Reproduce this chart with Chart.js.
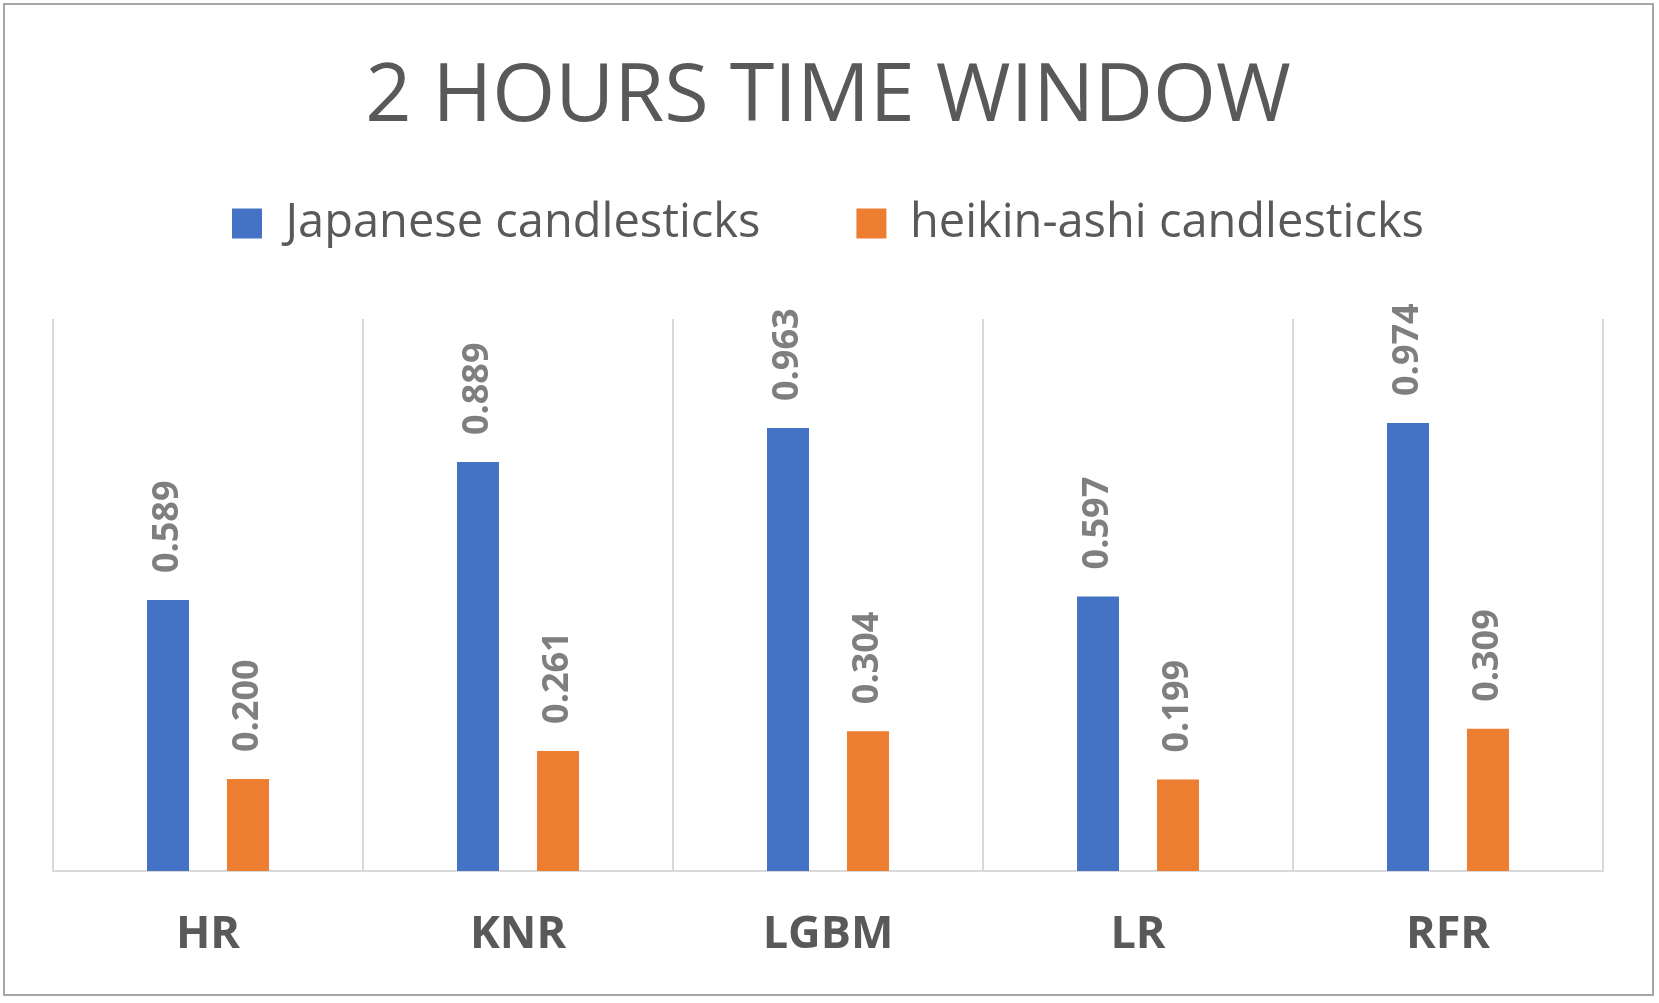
<!DOCTYPE html>
<html>
<head>
<meta charset="utf-8">
<script src="https://cdn.jsdelivr.net/npm/chart.js@4.4.1/dist/chart.umd.min.js"></script>
<style>
  html, body { margin: 0; padding: 0; background: #ffffff; }
  #wrap { width: 1659px; height: 1003px; position: relative; }
</style>
</head>
<body>
<div id="wrap"><canvas id="c" width="1659" height="1003"></canvas></div>
<script>
const categories = ['HR', 'KNR', 'LGBM', 'LR', 'RFR'];
const japaneseValues = [0.589, 0.889, 0.963, 0.597, 0.974];
const heikinAshiValues = [0.200, 0.261, 0.304, 0.199, 0.309];
const seriesNames = ['Japanese candlesticks', 'heikin-ashi candlesticks'];
const chartTitle = '2 HOURS TIME WINDOW';

const borderPlugin = {
  id: 'outerBorder',
  beforeDraw(chart) {
    const ctx = chart.ctx;
    ctx.save();
    ctx.fillStyle = '#ffffff';
    ctx.fillRect(0, 0, chart.width, chart.height);
    ctx.strokeStyle = '#a6a6a6';
    ctx.lineWidth = 2;
    ctx.strokeRect(4, 4, chart.width - 10, chart.height - 12);
    ctx.restore();
  }
};

// extra space between legend and plot area
const legendSpacingPlugin = {
  id: 'legendSpacing',
  beforeLayout(chart) {
    const lg = chart.legend;
    if (lg && !lg._spacingPatched) {
      const origFit = lg.fit;
      lg.fit = function () {
        origFit.call(this);
        this.height += 62;
      };
      lg._spacingPatched = true;
    }
  }
};

const valueLabelPlugin = {
  id: 'valueLabels',
  afterDatasetsDraw(chart) {
    const ctx = chart.ctx;
    ctx.save();
    ctx.font = 'bold 36px "Open Sans"';
    ctx.fillStyle = '#7f7f7f';
    ctx.textAlign = 'left';
    ctx.textBaseline = 'middle';
    chart.data.datasets.forEach((ds, di) => {
      const meta = chart.getDatasetMeta(di);
      meta.data.forEach((bar, i) => {
        const v = ds.data[i];
        ctx.save();
        ctx.translate(bar.x, bar.y - 27);
        ctx.rotate(-Math.PI / 2);
        ctx.fillText(v.toFixed(3), 0, 0);
        ctx.restore();
      });
    });
    ctx.restore();
  }
};

new Chart(document.getElementById('c'), {
  type: 'bar',
  data: {
    labels: categories,
    datasets: [
      { label: seriesNames[0], data: japaneseValues, backgroundColor: '#4472C4', borderWidth: 0 },
      { label: seriesNames[1], data: heikinAshiValues, backgroundColor: '#ED7D31', borderWidth: 0 }
    ]
  },
  options: {
    responsive: false,
    devicePixelRatio: 1,
    animation: false,
    categoryPercentage: 0.516,
    barPercentage: 0.525,
    layout: { padding: { left: 53, right: 56, top: 0, bottom: 4 } },
    plugins: {
      title: {
        display: true,
        text: chartTitle,
        color: '#595959',
        font: { family: '"Open Sans"', size: 81, weight: 'normal', lineHeight: 1 },
        padding: { top: 57, bottom: -34 }
      },
      legend: {
        display: true,
        position: 'top',
        labels: {
          color: '#595959',
          font: { family: '"Open Sans"', size: 47 },
          boxWidth: 30,
          boxHeight: 30,
          padding: 96
        }
      },
      tooltip: { enabled: false }
    },
    scales: {
      x: {
        grid: { display: true, offset: true, color: '#d9d9d9', lineWidth: 2, drawTicks: false },
        border: { display: true, color: '#d9d9d9', width: 2 },
        ticks: {
          color: '#595959',
          font: { family: '"Open Sans"', size: 45, weight: 'bold' },
          padding: 37
        }
      },
      y: {
        display: false,
        min: 0,
        max: 1.2
      }
    }
  },
  plugins: [borderPlugin, legendSpacingPlugin, valueLabelPlugin]
});
</script>
</body>
</html>
